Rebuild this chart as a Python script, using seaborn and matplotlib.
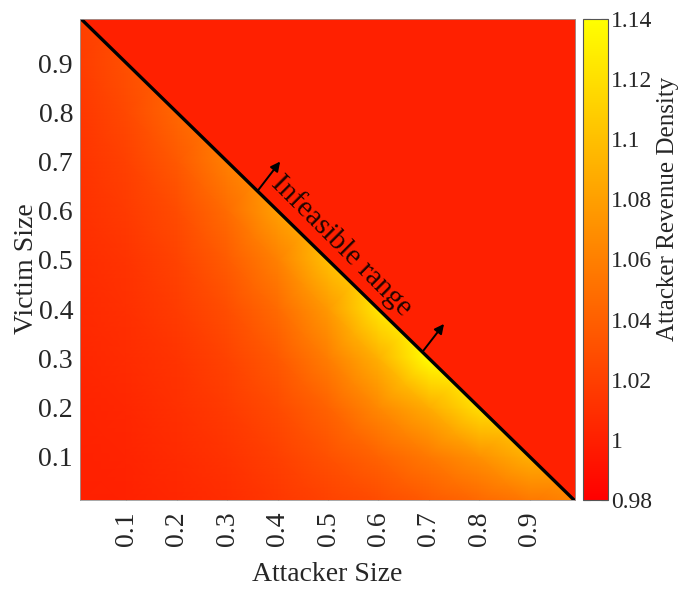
import numpy as np
import matplotlib
matplotlib.use('Agg')
import matplotlib.pyplot as plt
import seaborn as sns

# grid of sizes (attacker on x, victim on y)
attacker_size = [0.0, 0.1, 0.2, 0.3, 0.4, 0.5, 0.6, 0.7, 0.8, 0.9, 1.0]
victim_size = [0.0, 0.1, 0.2, 0.3, 0.4, 0.5, 0.6, 0.7, 0.8, 0.9, 1.0]

# revenue density, one row per victim size (0 -> 1)
rev_v00 = [1.000, 1.001, 1.004, 1.008, 1.014, 1.020, 1.026, 1.034, 1.042, 1.051, 1.060]
rev_v01 = [1.001, 1.003, 1.007, 1.012, 1.020, 1.031, 1.042, 1.056, 1.071, 1.090, 1.080]
rev_v02 = [1.002, 1.005, 1.010, 1.017, 1.027, 1.042, 1.066, 1.088, 1.120, 1.110, 1.090]
rev_v03 = [1.004, 1.008, 1.013, 1.022, 1.036, 1.059, 1.090, 1.140, 1.130, 1.120, 1.100]
rev_v04 = [1.006, 1.010, 1.018, 1.029, 1.047, 1.076, 1.125, 1.135, 1.130, 1.120, 1.100]
rev_v05 = [1.008, 1.013, 1.022, 1.038, 1.061, 1.100, 1.110, 1.120, 1.120, 1.110, 1.100]
rev_v06 = [1.010, 1.017, 1.028, 1.048, 1.080, 1.090, 1.100, 1.100, 1.100, 1.100, 1.100]
rev_v07 = [1.012, 1.021, 1.036, 1.060, 1.070, 1.080, 1.080, 1.080, 1.080, 1.080, 1.080]
rev_v08 = [1.014, 1.026, 1.045, 1.055, 1.060, 1.060, 1.060, 1.060, 1.060, 1.060, 1.060]
rev_v09 = [1.017, 1.030, 1.040, 1.045, 1.045, 1.045, 1.045, 1.045, 1.045, 1.045, 1.045]
rev_v10 = [1.020, 1.025, 1.030, 1.030, 1.030, 1.030, 1.030, 1.030, 1.030, 1.030, 1.030]

# attacker + victim > 1 is infeasible
boundary_x = [0.0, 1.0]
boundary_y = [1.0, 0.0]
infeasible_value = 1.0

cbar_ticks = [0.98, 1.0, 1.02, 1.04, 1.06, 1.08, 1.1, 1.12, 1.14]
size_ticks = [0.1, 0.2, 0.3, 0.4, 0.5, 0.6, 0.7, 0.8, 0.9]

# arrows pointing into the infeasible side
arrow_base = [(0.36, 0.64), (0.687, 0.313)]
arrow_tip = [(0.405, 0.70), (0.73, 0.37)]

sns.set_style('ticks')
plt.rcParams['font.family'] = ['Liberation Serif', 'DejaVu Serif']
plt.rcParams['xtick.direction'] = 'in'
plt.rcParams['ytick.direction'] = 'in'

revenue = np.array([rev_v00, rev_v01, rev_v02, rev_v03, rev_v04, rev_v05,
                    rev_v06, rev_v07, rev_v08, rev_v09, rev_v10])
cmap = plt.get_cmap('autumn')
norm = matplotlib.colors.Normalize(vmin=0.98, vmax=1.14)

fig = plt.figure(figsize=(6.81, 5.89), dpi=100)
ax = fig.add_axes([0.1175, 0.151, 0.727, 0.817])
cax = fig.add_axes([0.856, 0.151, 0.037, 0.817])

X, Y = np.meshgrid(attacker_size, victim_size)
mesh = ax.pcolormesh(X, Y, revenue, shading='gouraud', cmap=cmap, norm=norm)
ax.fill_between(boundary_x, boundary_y, max(victim_size),
                color=cmap(norm(infeasible_value)), lw=0)
sns.lineplot(x=boundary_x, y=boundary_y, color='k', lw=2.4, ax=ax)

for b, t in zip(arrow_base, arrow_tip):
    ax.annotate('', xy=t, xytext=b,
                arrowprops=dict(arrowstyle='-|>', color='k', lw=1.4,
                                mutation_scale=14, shrinkA=0, shrinkB=0))
ax.text(0.527, 0.53, 'Infeasible range', rotation=-45, fontsize=21,
        ha='center', va='center', color='#1f0500', rotation_mode='anchor')

ax.set_xlim(0.008, 0.99)
ax.set_ylim(0.012, 0.99)
ax.set_xticks(size_ticks)
ax.set_yticks(size_ticks)
ax.set_xticklabels([f'{t:g}' for t in size_ticks], rotation=90)
ax.set_yticklabels([f'{t:g}' for t in size_ticks])
ax.tick_params(labelsize=20, length=6, color='#555555', top=True, right=True,
               labeltop=False, labelright=False)
ax.tick_params(axis='x', pad=8)
ax.tick_params(axis='y', pad=5)
for s in ax.spines.values():
    s.set_visible(True)
    s.set_color('#999999')
    s.set_linewidth(0.6)
ax.set_xlabel('Attacker Size', fontsize=20, labelpad=12)
ax.set_ylabel('Victim Size', fontsize=20)
ax.yaxis.set_label_coords(-0.083, 0.48)

cb = fig.colorbar(mesh, cax=cax, ticks=cbar_ticks)
cb.ax.set_yticklabels([f'{t:g}' for t in cbar_ticks])
cb.ax.tick_params(labelsize=17, length=5, color='#555555', direction='in',
                  left=True, right=True, pad=2)
cb.outline.set_edgecolor('#555555')
cb.outline.set_linewidth(0.8)
cb.set_label('Attacker Revenue Density', fontsize=18)
cb.ax.yaxis.set_label_coords(2.92, 0.605)

fig.savefig('out.png', dpi=100)
